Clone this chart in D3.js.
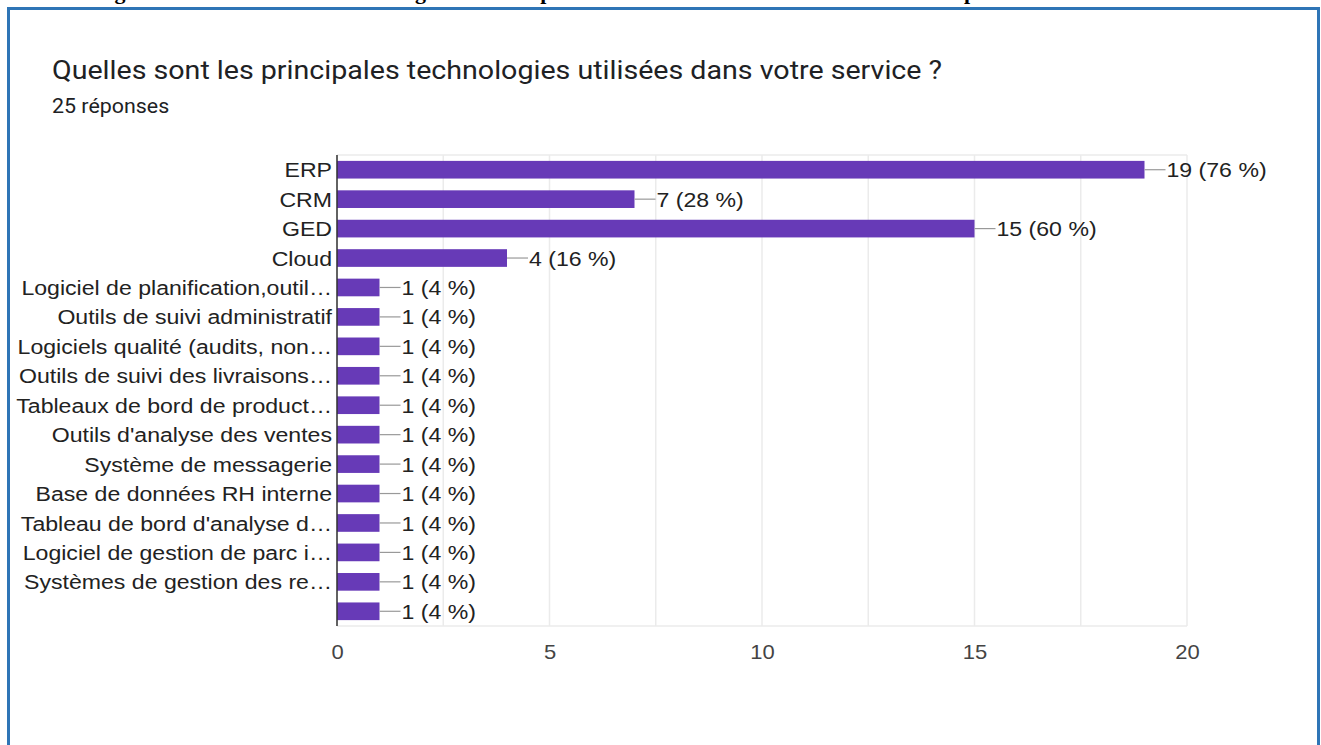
<!DOCTYPE html>
<html>
<head>
<meta charset="utf-8">
<script src="https://cdn.jsdelivr.net/npm/d3@7"></script>
<style>
  html, body { margin: 0; padding: 0; background: #ffffff; }
  svg { display: block; }
</style>
</head>
<body>
<svg id="chart" width="1321" height="745"></svg>
<script>
// Survey question and answer counts
const captionText = "Figure 3 : Les différentes technologies mises en place au sein des différents services de l'entreprise";
const titleText = "Quelles sont les principales technologies utilisées dans votre service ?";
const responsesText = "25 réponses";
const totalResponses = 25;

const categories = [
  "ERP",
  "CRM",
  "GED",
  "Cloud",
  "Logiciel de planification,outil…",
  "Outils de suivi administratif",
  "Logiciels qualité (audits, non…",
  "Outils de suivi des livraisons…",
  "Tableaux de bord de product…",
  "Outils d'analyse des ventes",
  "Système de messagerie",
  "Base de données RH interne",
  "Tableau de bord d'analyse d…",
  "Logiciel de gestion de parc i…",
  "Systèmes de gestion des re…",
  ""
];
const counts = [19, 7, 15, 4, 1, 1, 1, 1, 1, 1, 1, 1, 1, 1, 1, 1];
const tickValues = [0, 5, 10, 15, 20];
const gridValues = [0, 2.5, 5, 7.5, 10, 12.5, 15, 17.5, 20];

const svg = d3.select("#chart");
const labelFont = "Arial, 'Liberation Sans', sans-serif";
const titleFont = "Roboto, Arial, sans-serif";
const stretch = 1.1; // glyphs are drawn slightly wide

// Places a text at (x, y) with a horizontal stretch
function placeText(sel, xf, yf, sx) {
  sel.attr("x", 0).attr("y", 0)
     .attr("transform", (d, i) => `translate(${xf(d, i)},${yf(d, i)}) scale(${sx},1)`);
}

// Caption of the document, cut by the top edge
svg.append("text")
  .attr("x", 95).attr("y", -1)
  .attr("font-family", "'Liberation Serif', 'Times New Roman', serif")
  .attr("font-weight", "bold")
  .attr("font-size", 22)
  .attr("fill", "#000")
  .text(captionText);

// Blue frame
svg.append("rect")
  .attr("x", 8.5).attr("y", 8.5)
  .attr("width", 1310).attr("height", 800)
  .attr("fill", "none")
  .attr("stroke", "#2E75B6")
  .attr("stroke-width", 3);

// Header
svg.append("text")
  .call(placeText, () => 52, () => 79, stretch)
  .attr("font-family", titleFont)
  .attr("font-size", 26)
  .attr("fill", "#202124")
  .text(titleText);

svg.append("text")
  .call(placeText, () => 52, () => 112.5, 1.07)
  .attr("font-family", titleFont)
  .attr("font-size", 20)
  .attr("fill", "#202124")
  .text(responsesText);

// Scales
const x = d3.scaleLinear().domain([0, 20]).range([337, 1187]);
const y = d3.scaleBand()
  .domain(d3.range(categories.length))
  .range([155, 626])
  .paddingInner(0.4)
  .paddingOuter(0.2);
const yMid = (d, i) => y(i) + y.bandwidth() / 2;

const plot = svg.append("g");

// Gridlines
plot.selectAll("line.grid")
  .data(gridValues)
  .join("line")
  .attr("class", "grid")
  .attr("x1", d => x(d)).attr("x2", d => x(d))
  .attr("y1", y.range()[0]).attr("y2", y.range()[1])
  .attr("stroke", "#ebebeb")
  .attr("stroke-width", 1.5);

plot.selectAll("line.hgrid")
  .data(y.range())
  .join("line")
  .attr("class", "hgrid")
  .attr("x1", x(0)).attr("x2", x(20))
  .attr("y1", d => d).attr("y2", d => d)
  .attr("stroke", "#ebebeb")
  .attr("stroke-width", 1.5);

// Bars
plot.selectAll("rect.bar")
  .data(counts)
  .join("rect")
  .attr("class", "bar")
  .attr("x", x(0))
  .attr("y", (d, i) => y(i))
  .attr("width", d => x(d) - x(0))
  .attr("height", y.bandwidth())
  .attr("fill", "#673ab7");

// Value connectors and labels
plot.selectAll("line.conn")
  .data(counts)
  .join("line")
  .attr("class", "conn")
  .attr("x1", d => x(d)).attr("x2", d => x(d) + 21)
  .attr("y1", yMid)
  .attr("y2", yMid)
  .attr("stroke", "#999")
  .attr("stroke-width", 1.2);

plot.selectAll("text.value")
  .data(counts)
  .join("text")
  .attr("class", "value")
  .call(placeText, d => x(d) + 22, yMid, stretch)
  .attr("dy", "0.36em")
  .attr("font-family", labelFont)
  .attr("font-size", 21)
  .attr("fill", "#222")
  .text(d => `${d} (${Math.round(d / totalResponses * 100)} %)`);

// Category labels
plot.selectAll("text.cat")
  .data(categories)
  .join("text")
  .attr("class", "cat")
  .call(placeText, () => x(0) - 5, yMid, stretch)
  .attr("dy", "0.36em")
  .attr("text-anchor", "end")
  .attr("font-family", labelFont)
  .attr("font-size", 21)
  .attr("fill", "#222")
  .text(d => d);

// Baseline axis
plot.append("line")
  .attr("x1", x(0)).attr("x2", x(0))
  .attr("y1", y.range()[0]).attr("y2", y.range()[1])
  .attr("stroke", "#333")
  .attr("stroke-width", 1.5);

// Bottom axis tick labels
const xAxis = d3.axisBottom(x)
  .tickValues(tickValues)
  .tickSize(0)
  .tickPadding(19)
  .tickFormat(d3.format("d"));

const axisG = svg.append("g")
  .attr("transform", `translate(0,${y.range()[1]})`)
  .call(xAxis);
axisG.select(".domain").remove();
axisG.selectAll("text")
  .attr("transform", `scale(${stretch},1)`)
  .attr("font-family", labelFont)
  .attr("font-size", 20)
  .attr("fill", "#444");
</script>
</body>
</html>
